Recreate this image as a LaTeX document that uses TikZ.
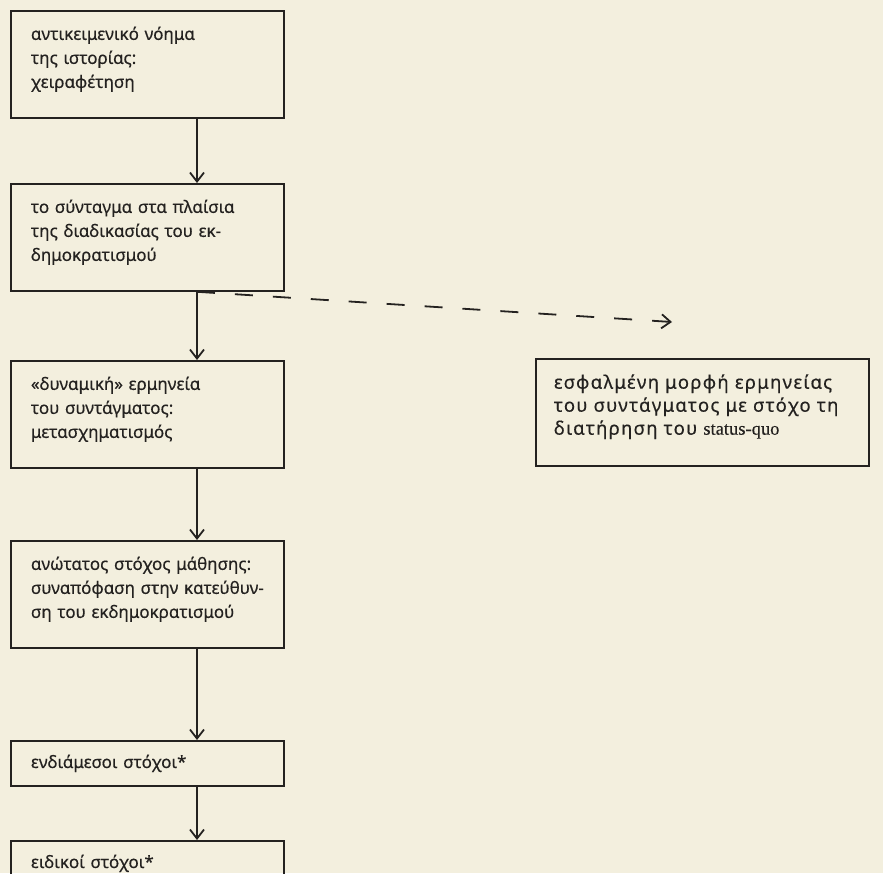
\documentclass[tikz,border=0pt]{standalone}
\usepackage{fontspec}
\setmainfont[FakeBold=0.4]{Noto Sans}
\newfontfamily\widefont[FakeBold=0.4, LetterSpace=7]{Noto Sans}
\newfontfamily\latinserif[FakeBold=0.3]{Liberation Serif}
\usetikzlibrary{arrows.meta}
\definecolor{paper}{RGB}{243,239,222}
\definecolor{ink}{RGB}{36,34,32}

\begin{document}
\begin{tikzpicture}[x=1pt, y=-1pt, line width=1.8pt, draw=ink, text=ink,
    font=\fontsize{17}{24}\selectfont,
    >={Straight Barb[length=9pt, width=14pt]},
    framed/.style={draw, anchor=north west, align=left, inner xsep=20pt, text width=233pt},
    goalbox/.style={framed, minimum height=107pt, text height=3pt},
    shortbox/.style={framed, minimum height=45pt}]
		\fill[paper] (0, 0) rectangle (883, 873);
		\useasboundingbox (0, 0) rectangle (883, 873);
		
		\node[goalbox] (meaning) at (10, 10) {αντικειμενικό νόημα\\της ιστορίας:\\χειραφέτηση};
		\node[goalbox] (constitution) at (10, 183) {το σύνταγμα στα πλαίσια\\της διαδικασίας του εκ-\\δημοκρατισμού};
		\node[goalbox] (dynamic) at (10, 360) {«δυναμική» ερμηνεία\\του συντάγματος:\\μετασχηματισμός};
		\node[goalbox] (highest) at (10, 540) {ανώτατος στόχος μάθησης:\\συναπόφαση στην κατεύθυν-\\ση του εκδημοκρατισμού};
		\node[shortbox] (middle) at (10, 740) {ενδιάμεσοι στόχοι*};
		\node[shortbox] (special) at (10, 840) {ειδικοί στόχοι*};
		
		\node[goalbox, inner xsep=18pt, text width=297pt, font=\widefont\fontsize{18.5}{23}\selectfont] (wrong) at (535, 358) {εσφαλμένη μορφή ερμηνείας\\του συντάγματος με στόχο τη\\διατήρηση του {\latinserif status-quo}};
		
		\coordinate (spine) at (197, 0);
		\coordinate (dashend) at (672, 322);
		
		\draw[->] (meaning.south -| spine) -- (constitution.north -| spine);
		\draw[->] (constitution.south -| spine) -- (dynamic.north -| spine);
		\draw[->] (dynamic.south -| spine) -- (highest.north -| spine);
		\draw[->] (highest.south -| spine) -- (middle.north -| spine);
		\draw[->] (middle.south -| spine) -- (special.north -| spine);
		\draw[->, dash pattern=on 18pt off 20pt] (constitution.south -| spine) -- (dashend);
	\end{tikzpicture}
\end{document}
